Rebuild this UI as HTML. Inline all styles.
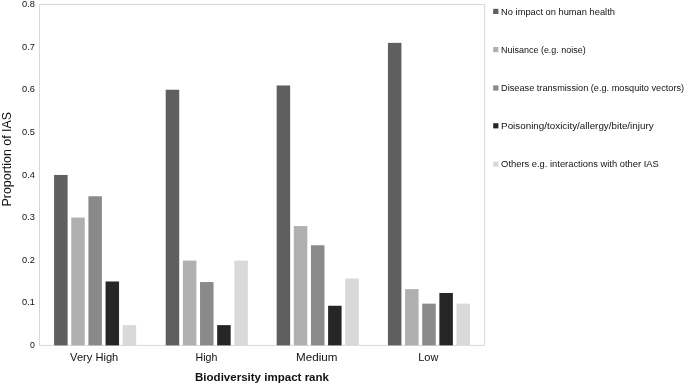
<!DOCTYPE html><html><head><meta charset="utf-8"><style>html,body{margin:0;padding:0;background:#fff}svg{display:block;filter:grayscale(1)}text{font-family:"Liberation Sans",sans-serif;fill:#111}</style></head><body>
<svg width="685" height="385" viewBox="0 0 685 385">
<rect x="0" y="0" width="685" height="385" fill="#ffffff"/>
<rect x="39.5" y="4.5" width="445.10" height="340.90" fill="none" stroke="#d9d9d9" stroke-width="1"/>
<rect x="54.10" y="174.95" width="13.5" height="170.45" fill="#5f5f5f"/>
<rect x="71.25" y="217.56" width="13.5" height="127.84" fill="#b0b0b0"/>
<rect x="88.40" y="196.26" width="13.5" height="149.14" fill="#8a8a8a"/>
<rect x="105.55" y="281.48" width="13.5" height="63.92" fill="#262626"/>
<rect x="122.70" y="325.12" width="13.5" height="20.28" fill="#d9d9d9"/>
<rect x="165.72" y="89.73" width="13.5" height="255.67" fill="#5f5f5f"/>
<rect x="182.88" y="260.60" width="13.5" height="84.80" fill="#b0b0b0"/>
<rect x="200.03" y="282.04" width="13.5" height="63.36" fill="#8a8a8a"/>
<rect x="217.17" y="325.12" width="13.5" height="20.28" fill="#262626"/>
<rect x="234.32" y="260.60" width="13.5" height="84.80" fill="#d9d9d9"/>
<rect x="276.65" y="85.46" width="13.5" height="259.94" fill="#5f5f5f"/>
<rect x="293.80" y="226.08" width="13.5" height="119.31" fill="#b0b0b0"/>
<rect x="310.95" y="245.26" width="13.5" height="100.14" fill="#8a8a8a"/>
<rect x="328.10" y="305.77" width="13.5" height="39.63" fill="#262626"/>
<rect x="345.25" y="278.50" width="13.5" height="66.90" fill="#d9d9d9"/>
<rect x="387.93" y="42.85" width="13.5" height="302.55" fill="#5f5f5f"/>
<rect x="405.08" y="289.15" width="13.5" height="56.25" fill="#b0b0b0"/>
<rect x="422.23" y="303.64" width="13.5" height="41.76" fill="#8a8a8a"/>
<rect x="439.38" y="292.99" width="13.5" height="52.41" fill="#262626"/>
<rect x="456.53" y="303.64" width="13.5" height="41.76" fill="#d9d9d9"/>
<text x="35" y="348.00" font-size="9.8" text-anchor="end" textLength="4.9" lengthAdjust="spacingAndGlyphs">0</text>
<text x="35" y="305.39" font-size="9.8" text-anchor="end" textLength="12.9" lengthAdjust="spacingAndGlyphs">0.1</text>
<text x="35" y="262.77" font-size="9.8" text-anchor="end" textLength="12.9" lengthAdjust="spacingAndGlyphs">0.2</text>
<text x="35" y="220.16" font-size="9.8" text-anchor="end" textLength="12.9" lengthAdjust="spacingAndGlyphs">0.3</text>
<text x="35" y="177.55" font-size="9.8" text-anchor="end" textLength="12.9" lengthAdjust="spacingAndGlyphs">0.4</text>
<text x="35" y="134.94" font-size="9.8" text-anchor="end" textLength="12.9" lengthAdjust="spacingAndGlyphs">0.5</text>
<text x="35" y="92.33" font-size="9.8" text-anchor="end" textLength="12.9" lengthAdjust="spacingAndGlyphs">0.6</text>
<text x="35" y="49.71" font-size="9.8" text-anchor="end" textLength="12.9" lengthAdjust="spacingAndGlyphs">0.7</text>
<text x="35" y="7.10" font-size="9.8" text-anchor="end" textLength="12.9" lengthAdjust="spacingAndGlyphs">0.8</text>
<text x="94.2" y="360.8" font-size="11.5" text-anchor="middle" textLength="48.2" lengthAdjust="spacingAndGlyphs">Very High</text>
<text x="206.4" y="360.8" font-size="11.5" text-anchor="middle" textLength="21.8" lengthAdjust="spacingAndGlyphs">High</text>
<text x="316.7" y="360.8" font-size="11.5" text-anchor="middle" textLength="41.3" lengthAdjust="spacingAndGlyphs">Medium</text>
<text x="428.3" y="360.8" font-size="11.5" text-anchor="middle" textLength="20.2" lengthAdjust="spacingAndGlyphs">Low</text>
<text x="262" y="381" font-size="11.5" font-weight="bold" text-anchor="middle" textLength="134" lengthAdjust="spacingAndGlyphs">Biodiversity impact rank</text>
<text transform="translate(11.1,159.2) rotate(-90)" font-size="12" text-anchor="middle" textLength="94.5" lengthAdjust="spacingAndGlyphs">Proportion of IAS</text>
<rect x="493.2" y="8.80" width="5.2" height="5.2" fill="#5f5f5f"/>
<text x="501.1" y="14.60" font-size="9.2" textLength="113.8" lengthAdjust="spacingAndGlyphs">No impact on human health</text>
<rect x="493.2" y="47.00" width="5.2" height="5.2" fill="#b0b0b0"/>
<text x="501.1" y="52.80" font-size="9.2" textLength="84.6" lengthAdjust="spacingAndGlyphs">Nuisance (e.g. noise)</text>
<rect x="493.2" y="85.40" width="5.2" height="5.2" fill="#8a8a8a"/>
<text x="501.1" y="91.20" font-size="9.2" textLength="183" lengthAdjust="spacingAndGlyphs">Disease transmission (e.g. mosquito vectors)</text>
<rect x="493.2" y="123.20" width="5.2" height="5.2" fill="#262626"/>
<text x="501.1" y="129.00" font-size="9.2" textLength="152.5" lengthAdjust="spacingAndGlyphs">Poisoning/toxicity/allergy/bite/injury</text>
<rect x="493.2" y="161.60" width="5.2" height="5.2" fill="#d9d9d9"/>
<text x="501.1" y="167.40" font-size="9.2" textLength="157.7" lengthAdjust="spacingAndGlyphs">Others e.g. interactions with other IAS</text>
</svg></body></html>
